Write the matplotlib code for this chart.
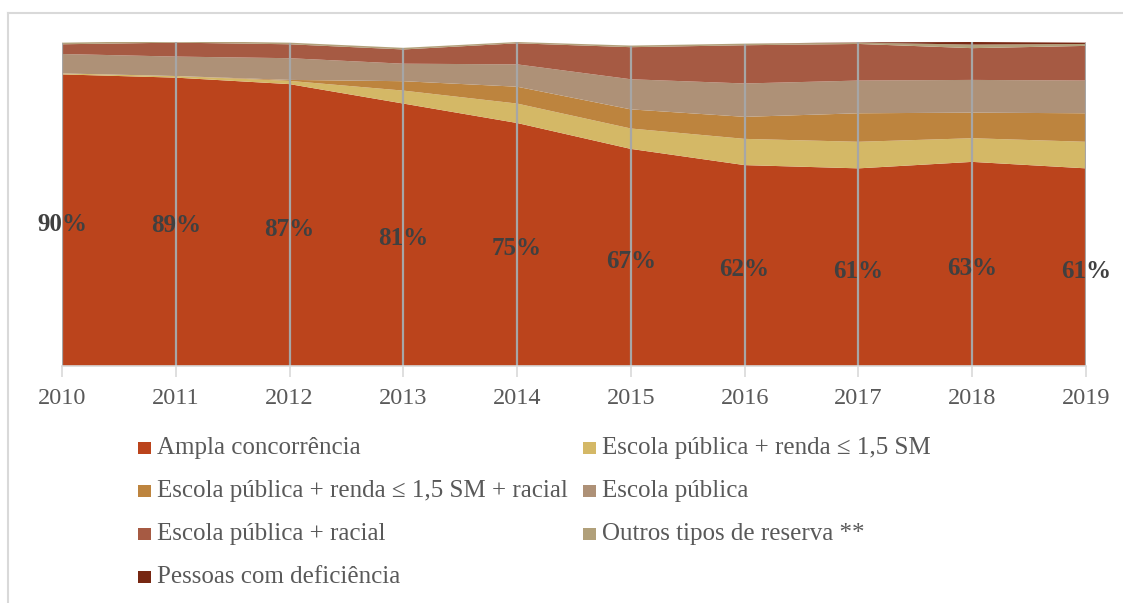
import matplotlib
matplotlib.use("Agg")
import matplotlib.pyplot as plt
from matplotlib.patches import Rectangle
from matplotlib.lines import Line2D
import numpy as np

years = [2010, 2011, 2012, 2013, 2014, 2015, 2016, 2017, 2018, 2019]
ampla = [90, 89, 87, 81, 75, 67, 62, 61, 63, 61]
ep_renda = [0.3, 0.5, 1.0, 4.0, 6.0, 6.3, 8.1, 8.2, 7.3, 8.2]
ep_renda_racial = [0.0, 0.0, 0.3, 2.9, 5.2, 5.9, 6.8, 8.8, 7.9, 8.8]
ep = [6.0, 6.0, 6.7, 5.4, 6.9, 9.3, 10.3, 10.1, 10.1, 10.1]
ep_racial = [3.0, 4.3, 4.3, 4.4, 6.5, 9.9, 11.8, 11.3, 9.8, 10.7]
outros = [0.5, 0.5, 0.5, 0.5, 0.4, 0.5, 0.5, 0.4, 1.1, 0.6]
deficiencia = [0.0, 0.0, 0.0, 0.0, 0.0, 0.0, 0.0, 0.1, 0.8, 0.4]
pct_labels = ["90%", "89%", "87%", "81%", "75%", "67%", "62%", "61%", "63%", "61%"]

series_names = [
    "Ampla concorrência",
    "Escola pública + renda ≤ 1,5 SM",
    "Escola pública + renda ≤ 1,5 SM + racial",
    "Escola pública",
    "Escola pública + racial",
    "Outros tipos de reserva **",
    "Pessoas com deficiência",
]
series = [ampla, ep_renda, ep_renda_racial, ep, ep_racial, outros, deficiencia]
colors = ["#BB441C", "#D4B866", "#BD843E", "#AE9177", "#A65A43", "#B1A07A", "#772712"]

plt.rcParams['font.family'] = ['Liberation Serif', 'DejaVu Serif']

W, H = 1123, 603
fig = plt.figure(figsize=(W / 100, H / 100), dpi=100)

# outer border
fig.add_artist(Line2D([8 / W, 1], [1 - 13 / H, 1 - 13 / H], transform=fig.transFigure, color="#D9D9D9", lw=1.5))
fig.add_artist(Line2D([8 / W, 8 / W], [0, 1 - 13 / H], transform=fig.transFigure, color="#D9D9D9", lw=1.5))

left, right = 62 / W, 1086 / W
bottom, top = 1 - 366 / H, 1 - 42 / H
ax = fig.add_axes([left, bottom, right - left, top - bottom])

x = np.array(years)
ax.stackplot(x, *series, colors=colors, linewidth=0)

totals = np.sum(np.array(series), axis=0)
ax.vlines(x, 0, totals, colors="#A6A6A6", linewidth=1.6, zorder=3)

for xi, v, lab in zip(x, ampla, pct_labels):
    ax.annotate(lab, (xi, v / 2), xytext=(0, -3), textcoords="offset points",
                ha="center", va="center", fontsize=18, fontweight="bold", color="#404040", zorder=4)

ax.set_xlim(2010, 2019)
ax.set_ylim(0, 100)
ax.set_xticks(years)
ax.set_xticklabels([str(y) for y in years])
ax.set_yticks([])
for s in ["top", "right", "left"]:
    ax.spines[s].set_visible(False)
ax.spines["bottom"].set_color("#D9D9D9")
ax.spines["bottom"].set_linewidth(1.2)
ax.spines["bottom"].set_zorder(5)
ax.tick_params(axis="x", length=8, width=1.2, color="#D9D9D9", labelsize=17.5, labelcolor="#595959", pad=8)
ax.set_facecolor("none")

# legend
col_x = [138, 583]
row_y = [448, 491, 534, 577]
for i, (name, c) in enumerate(zip(series_names, colors)):
    r, cidx = divmod(i, 2)
    mx = col_x[cidx]
    my = row_y[r]
    fig.add_artist(Rectangle((mx / W, 1 - (my + 6) / H), 13 / W, 12 / H, transform=fig.transFigure,
                             facecolor=c, edgecolor="none"))
    fig.text((mx + 19) / W, 1 - my / H, name, ha="left", va="center", fontsize=18, color="#595959")

fig.savefig("out.png", dpi=100)
